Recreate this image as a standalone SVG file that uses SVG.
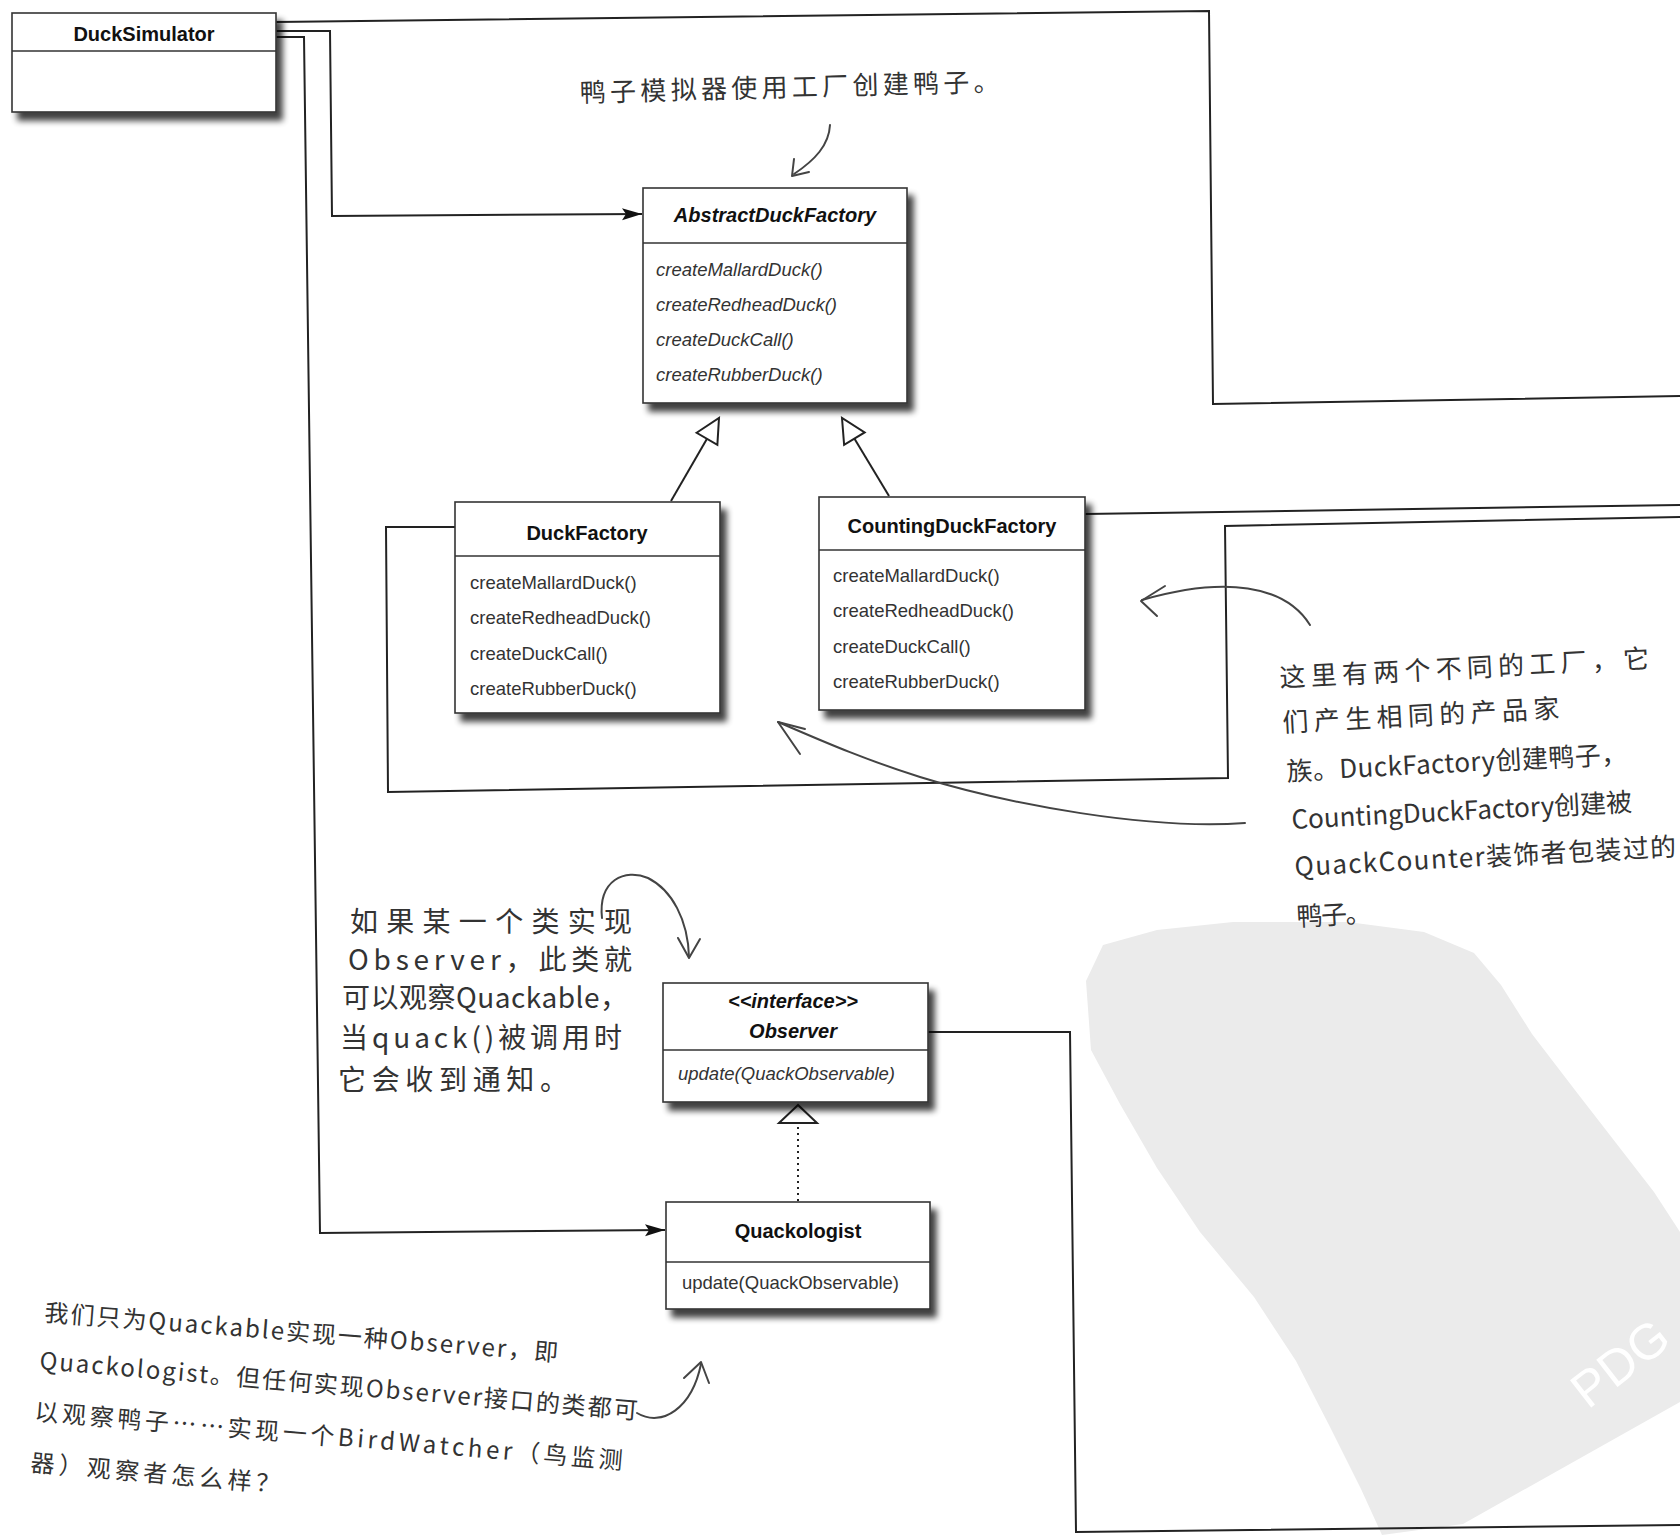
<svg xmlns="http://www.w3.org/2000/svg" width="1680" height="1535" viewBox="0 0 1680 1535">
<defs>
<style>
.box{fill:#fff;stroke:#333;stroke-width:1.6;filter:url(#sh)}
.div{stroke:#333;stroke-width:1.5}
.title{font-family:"Liberation Sans",Arial,sans-serif;font-weight:bold;font-size:20px;fill:#111;text-anchor:middle}
.m{font-family:"Liberation Sans",Arial,sans-serif;font-size:18.5px;fill:#333}
.it{font-style:italic}
.conn{fill:none;stroke:#222;stroke-width:2}
.note{font-family:"Noto Sans CJK SC","Noto Sans CJK JP",sans-serif;fill:#333}
.hand{fill:none;stroke:#444;stroke-width:2;stroke-linecap:round;stroke-linejoin:round}
</style>
<filter id="sh" x="-10%" y="-10%" width="130%" height="135%">
<feGaussianBlur in="SourceAlpha" stdDeviation="3"/>
<feOffset dx="6" dy="8"/>
<feComponentTransfer><feFuncA type="linear" slope="0.75"/></feComponentTransfer>
<feMerge><feMergeNode/><feMergeNode in="SourceGraphic"/></feMerge>
</filter>
<marker id="arr" markerUnits="userSpaceOnUse" markerWidth="24" markerHeight="16" viewBox="-2 -8 24 16" refX="20" refY="0" orient="auto">
<path d="M0,-6 L20,0 L0,6 L4,0 Z" fill="#111"/>
</marker>
<marker id="tri" markerUnits="userSpaceOnUse" markerWidth="30" markerHeight="30" viewBox="-2 -14 30 28" refX="24" refY="0" orient="auto">
<path d="M0,-12 L24,0 L0,12 Z" fill="#fff" stroke="#222" stroke-width="2"/>
</marker>
</defs>
<rect width="1680" height="1535" fill="#fff"/>

<g id="watermark">
<path d="M1086,981 L1103,945 L1157,930 L1233,922 L1348,922 L1424,932 L1474,953 L1501,985 L1532,1034 L1578,1094 L1616,1143 L1654,1192 L1680,1232 L1680,1402 L1463,1524 L1382,1535 L1361,1489 L1329,1425 L1296,1361 L1254,1297 L1200,1232 L1157,1168 L1120,1104 L1091,1050 Z" fill="#ebebeb"/>
<text x="1588" y="1410" transform="rotate(-38 1588 1410)" font-family="Liberation Sans,Arial,sans-serif" font-size="50" fill="#fff">PDG</text>
</g>

<g id="connectors">
<path class="conn" d="M276,22 L1209,11 L1213,404 L1680,396"/>
<path class="conn" d="M276,31 L330,31 L332,216 L642,214" marker-end="url(#arr)"/>
<path class="conn" d="M276,37 L304,37 L320,1233 L665,1230" marker-end="url(#arr)"/>
<path class="conn" d="M455,527 L386,527 L388,792 L1228,778 L1225,526 L1680,517"/>
<path class="conn" d="M1085,514 L1680,505"/>
<path class="conn" d="M928,1032 L1070,1032 L1076,1532 L1680,1525"/>
<path class="conn" d="M671,501 L719,418" marker-end="url(#tri)"/>
<path class="conn" d="M889,496 L842,418" marker-end="url(#tri)"/>
<path class="conn" d="M798,1201 L798,1123" stroke-dasharray="2,4" stroke-width="2"/>
<polygon points="798,1105 779,1123 817,1123" fill="#fff" stroke="#222" stroke-width="2"/>
</g>

<g id="DuckSimulator">
<rect class="box" x="12" y="13" width="264" height="99"/>
<line class="div" x1="12" y1="51" x2="276" y2="51"/>
<text class="title" x="144" y="41">DuckSimulator</text>
</g>

<g id="AbstractDuckFactory">
<rect class="box" x="643" y="188" width="264" height="215"/>
<line class="div" x1="643" y1="243" x2="907" y2="243"/>
<text class="title it" x="775" y="222">AbstractDuckFactory</text>
<text class="m it" x="656" y="276">createMallardDuck()</text>
<text class="m it" x="656" y="311">createRedheadDuck()</text>
<text class="m it" x="656" y="346">createDuckCall()</text>
<text class="m it" x="656" y="381">createRubberDuck()</text>
</g>

<g id="DuckFactory">
<rect class="box" x="455" y="502" width="265" height="211"/>
<line class="div" x1="455" y1="556" x2="720" y2="556"/>
<text class="title" x="587" y="540">DuckFactory</text>
<text class="m" x="470" y="589">createMallardDuck()</text>
<text class="m" x="470" y="624">createRedheadDuck()</text>
<text class="m" x="470" y="660">createDuckCall()</text>
<text class="m" x="470" y="695">createRubberDuck()</text>
</g>

<g id="CountingDuckFactory">
<rect class="box" x="819" y="497" width="266" height="213"/>
<line class="div" x1="819" y1="550" x2="1085" y2="550"/>
<text class="title" x="952" y="533">CountingDuckFactory</text>
<text class="m" x="833" y="582">createMallardDuck()</text>
<text class="m" x="833" y="617">createRedheadDuck()</text>
<text class="m" x="833" y="653">createDuckCall()</text>
<text class="m" x="833" y="688">createRubberDuck()</text>
</g>

<g id="Observer">
<rect class="box" x="663" y="983" width="265" height="119"/>
<line class="div" x1="663" y1="1050" x2="928" y2="1050"/>
<text class="title it" x="793" y="1008" font-size="19">&lt;&lt;interface&gt;&gt;</text>
<text class="title it" x="793" y="1038">Observer</text>
<text class="m it" x="678" y="1080" font-size="18">update(QuackObservable)</text>
</g>

<g id="Quackologist">
<rect class="box" x="666" y="1202" width="264" height="107"/>
<line class="div" x1="666" y1="1262" x2="930" y2="1262"/>
<text class="title" x="798" y="1238">Quackologist</text>
<text class="m" x="682" y="1289" font-size="18">update(QuackObservable)</text>
</g>

<g id="note-simulator">
<text class="note" x="580" y="102" font-size="26" textLength="420" transform="rotate(-1.5 580 102)">鸭子模拟器使用工厂创建鸭子。</text>
<path class="hand" d="M830,125 C829,145 815,160 794,174"/>
<path class="hand" d="M794,159 L792,176 L809,172"/>
</g>

<g id="note-factories">
<text class="note" x="1280" y="687" font-size="26" textLength="370" transform="rotate(-3 1280 687)">这里有两个不同的工厂，它</text>
<text class="note" x="1283" y="732" font-size="26" textLength="277" transform="rotate(-3 1283 732)">们产生相同的产品家</text>
<text class="note" x="1287" y="781" font-size="26" textLength="341" transform="rotate(-3 1287 781)">族。DuckFactory创建鸭子，</text>
<text class="note" x="1292" y="829" font-size="26" textLength="341" transform="rotate(-3 1292 829)">CountingDuckFactory创建被</text>
<text class="note" x="1295" y="876" font-size="26" textLength="382" transform="rotate(-3 1295 876)">QuackCounter装饰者包装过的</text>
<text class="note" x="1297" y="926" font-size="26" textLength="75" transform="rotate(-3 1297 926)">鸭子。</text>
<path class="hand" d="M1310,625 C1285,585 1225,576 1142,600"/>
<path class="hand" d="M1165,586 L1141,601 L1157,616"/>
<path class="hand" d="M1245,823 C1150,830 1010,805 920,777 C860,758 820,740 778,722"/>
<path class="hand" d="M805,729 L778,722 L800,754"/>
</g>

<g id="note-observer">
<text class="note" x="350" y="932" font-size="28" textLength="282">如果某一个类实现</text>
<text class="note" x="348" y="970" font-size="28" textLength="284">Observer，此类就</text>
<text class="note" x="342" y="1008" font-size="28" textLength="286">可以观察Quackable，</text>
<text class="note" x="340" y="1048" font-size="28" textLength="282">当quack()被调用时</text>
<text class="note" x="338" y="1090" font-size="28" textLength="230">它会收到通知。</text>
<path class="hand" d="M602,918 C598,880 625,868 648,878 C672,890 688,920 689,957"/>
<path class="hand" d="M678,938 L689,958 L700,939"/>
</g>

<g id="note-birdwatcher">
<text class="note" x="44" y="1321" font-size="24" textLength="515" transform="rotate(4.5 44 1321)">我们只为Quackable实现一种Observer，即</text>
<text class="note" x="39" y="1369" font-size="24" textLength="600" transform="rotate(4.8 39 1369)">Quackologist。但任何实现Observer接口的类都可</text>
<text class="note" x="34" y="1420" font-size="24" textLength="590" transform="rotate(4.8 34 1420)">以观察鸭子……实现一个BirdWatcher（鸟监测</text>
<text class="note" x="30" y="1471" font-size="24" textLength="250" transform="rotate(5 30 1471)">器）观察者怎么样？</text>
<path class="hand" d="M637,1413 C662,1428 692,1408 701,1364"/>
<path class="hand" d="M684,1378 L701,1362 L709,1383"/>
</g>
</svg>
